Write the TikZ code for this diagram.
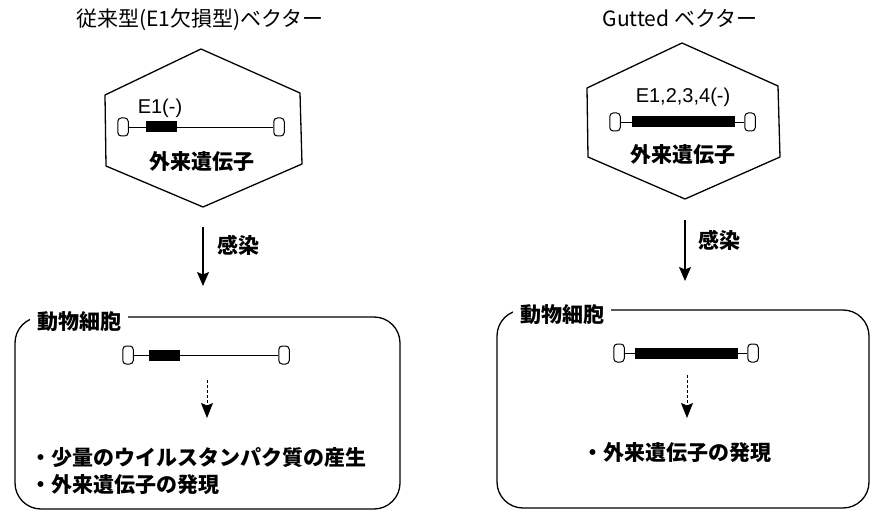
\documentclass[tikz,border=0pt]{standalone}
\usepackage{fontspec}
\setmainfont{Noto Sans CJK JP}
\newfontfamily\latfont{Liberation Sans}
\usetikzlibrary{arrows.meta}
\begin{document}
\begin{tikzpicture}[x=1pt,y=-1pt,
  lbl/.style={inner sep=0pt, font=\fontsize{21}{25}\selectfont\bfseries},
  ttl/.style={inner sep=0pt, font=\fontsize{21}{25}\selectfont},
  small/.style={inner sep=0pt, font=\latfont\fontsize{20}{24}\selectfont},
  celllbl/.style={lbl, fill=white, inner xsep=7pt, inner ysep=2pt},
  endbox/.style={draw, line width=1pt, rounded corners=3.5pt, minimum width=10.5pt, minimum height=18pt, inner sep=0pt, fill=white},
  gene/.style={fill=black, minimum height=11pt, inner sep=0pt},
  dna/.style={line width=0.8pt},
  hexa/.style={draw, line width=1.3pt, line join=round},
  cell/.style={draw, line width=1.3pt, rounded corners=26pt},
  infect/.style={line width=1.2pt, -{Stealth[length=14pt,width=12pt,inset=2.5pt]}},
  express/.style={line width=1pt, dash pattern=on 3pt off 2pt, -{Stealth[length=15pt,width=12pt,inset=2.5pt]}},
]
\useasboundingbox (0,0) rectangle (873,513);

% ---------------- left ----------------
\node[ttl] (titleL) at (200,20) {従来型(E1欠損型)ベクター};
\draw[hexa] (201,49) -- (300,93) -- (302,164) -- (203,207) -- (106,166) -- (105,95) -- cycle;
\node[small] (e1L) at (160,108) {E1(-)};
\node[endbox] (hla) at (123,127) {};
\node[gene, minimum width=31pt] (hlg) at (161.5,127) {};
\node[endbox] (hlb) at (279,127) {};
\draw[dna] (hla) -- (hlg) -- (hlb);
\node[lbl] (forL) at (202,162) {外来遺伝子};

\coordinate (aL1) at (203,227);
\coordinate (aL2) at (203,286);
\draw[infect] (aL1) -- (aL2);
\node[lbl, anchor=west] (infL) at (217,245) {感染};

\draw[cell] (15,317) rectangle (400,509);
\node[celllbl, anchor=west] (cellL) at (30,322) {動物細胞};
\node[endbox] (cla) at (128,355) {};
\node[gene, minimum width=31pt] (clg) at (164.5,355) {};
\node[endbox] (clb) at (284,355) {};
\draw[dna] (cla) -- (clg) -- (clb);
\coordinate (dL1) at (207,380);
\coordinate (dL2) at (207,418);
\draw[express] (dL1) -- (dL2);
\node[lbl, anchor=west] (resL1) at (30,458) {・少量のウイルスタンパク質の産生};
\node[lbl, anchor=west] (resL2) at (30,485) {・外来遺伝子の発現};

% ---------------- right ----------------
\node[ttl] (titleR) at (680,18) {Gutted ベクター};
\draw[hexa] (682,43) -- (778,86) -- (780,157) -- (685,199) -- (588,157) -- (587,88) -- cycle;
\node[small] (e1R) at (683,97) {E1,2,3,4(-)};
\node[endbox] (hra) at (615,122) {};
\node[gene, minimum width=103pt] (hrg) at (683.5,122) {};
\node[endbox] (hrb) at (750,122) {};
\draw[dna] (hra) -- (hrg) -- (hrb);
\node[lbl] (forR) at (683,155) {外来遺伝子};

\coordinate (aR1) at (685,220);
\coordinate (aR2) at (685,281);
\draw[infect] (aR1) -- (aR2);
\node[lbl, anchor=west] (infR) at (698,240) {感染};

\draw[cell] (497,310) rectangle (869,508);
\node[celllbl, anchor=west] (cellR) at (513,315) {動物細胞};
\node[endbox] (cra) at (619,353) {};
\node[gene, minimum width=103pt] (crg) at (686.5,353) {};
\node[endbox] (crb) at (753,353) {};
\draw[dna] (cra) -- (crg) -- (crb);
\coordinate (dR1) at (687,375);
\coordinate (dR2) at (687,418);
\draw[express] (dR1) -- (dR2);
\node[lbl, anchor=west] (resR) at (582,453) {・外来遺伝子の発現};
\end{tikzpicture}
\end{document}
